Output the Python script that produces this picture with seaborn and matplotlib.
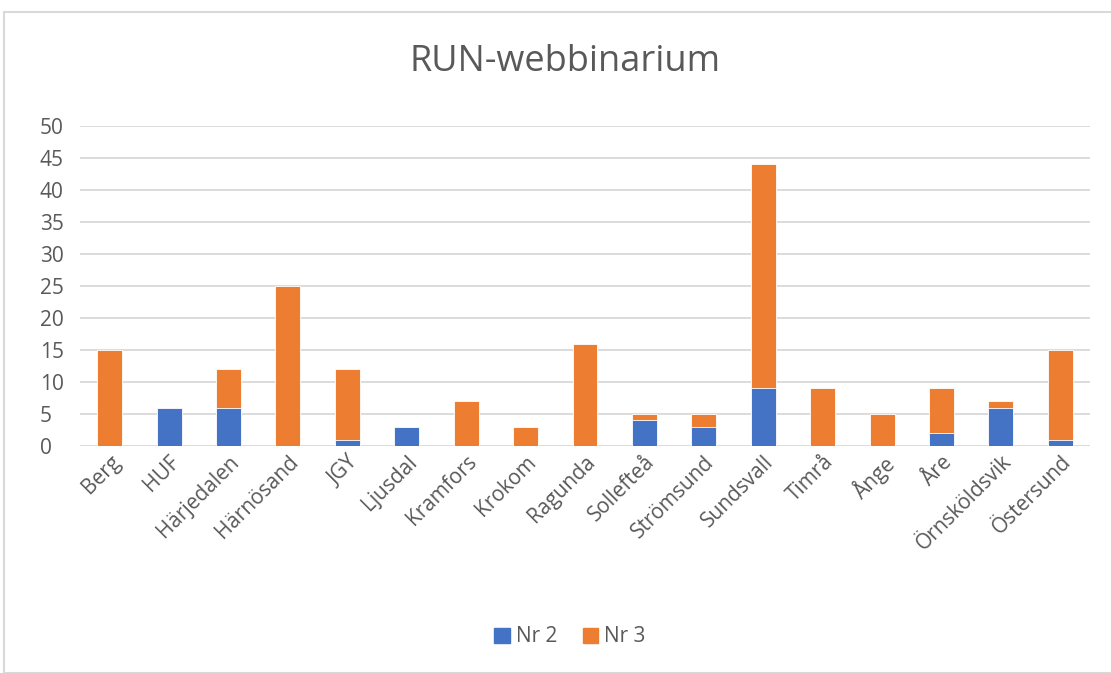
import pandas as pd
import matplotlib.pyplot as plt
import matplotlib.patches as mpatches
import seaborn as sns

# Data
orter = ["Berg", "HUF", "Härjedalen", "Härnösand", "JGY", "Ljusdal", "Kramfors",
         "Krokom", "Ragunda", "Sollefteå", "Strömsund", "Sundsvall", "Timrå",
         "Ånge", "Åre", "Örnsköldsvik", "Östersund"]
nr2 = [0, 6, 6, 0, 1, 3, 0, 0, 0, 4, 3, 9, 0, 0, 2, 6, 1]
nr3 = [15, 0, 6, 25, 11, 0, 7, 3, 16, 1, 2, 35, 9, 5, 7, 1, 14]

blue = "#4472c4"
orange = "#ed7d31"
grey_text = "#595959"

sns.set_theme(style="white")
plt.rcParams['font.family'] = ['Open Sans', 'DejaVu Sans']

df = pd.DataFrame({"ort": orter, "Nr 2": nr2, "Nr 3": nr3})
df["total"] = df["Nr 2"] + df["Nr 3"]

fig = plt.figure(figsize=(11.11, 6.73), dpi=100)
ax = fig.add_axes([80 / 1111, 1 - 446 / 673, 1010 / 1111, 320 / 673])

# stacked: draw total in orange, then Nr 2 in blue on top
sns.barplot(data=df, x="ort", y="total", color=orange, width=0.42, ax=ax,
            edgecolor="white", linewidth=0.6, saturation=1)
sns.barplot(data=df, x="ort", y="Nr 2", color=blue, width=0.42, ax=ax,
            edgecolor="white", linewidth=0.6, saturation=1)

ax.set_ylim(0, 50)
ax.set_yticks(range(0, 51, 5))
ax.yaxis.grid(True, color="#d9d9d9", linewidth=1.3)
ax.set_axisbelow(True)
for s in ax.spines.values():
    s.set_visible(False)
ax.set_xlabel("")
ax.set_ylabel("")
ax.tick_params(axis="y", length=0, labelsize=15, labelcolor=grey_text, pad=29)
ax.tick_params(axis="x", length=0, labelsize=15, labelcolor=grey_text, pad=4)
plt.setp(ax.get_xticklabels(), rotation=45, ha="right", rotation_mode="anchor")
for lbl in ax.get_yticklabels():
    lbl.set_horizontalalignment("left")

fig.text(565 / 1111, 1 - 62 / 673, "RUN-webbinarium", ha="center", va="center",
         fontsize=26, color=grey_text)

handles = [mpatches.Patch(color=blue, label="Nr 2"),
           mpatches.Patch(color=orange, label="Nr 3")]
fig.legend(handles=handles, loc="center", bbox_to_anchor=(570 / 1111, 1 - 637 / 673),
           ncol=2, frameon=False, fontsize=15, labelcolor=grey_text,
           handlelength=0.75, handleheight=0.75, handletextpad=0.3, columnspacing=1.2)

# chart frame
fig.patches.append(mpatches.Rectangle((4 / 1111, 0), 1.1, 1 - 12 / 673,
                                      transform=fig.transFigure, fill=False,
                                      edgecolor="#d9d9d9", linewidth=1.5))

fig.savefig("out.png", dpi=100)
